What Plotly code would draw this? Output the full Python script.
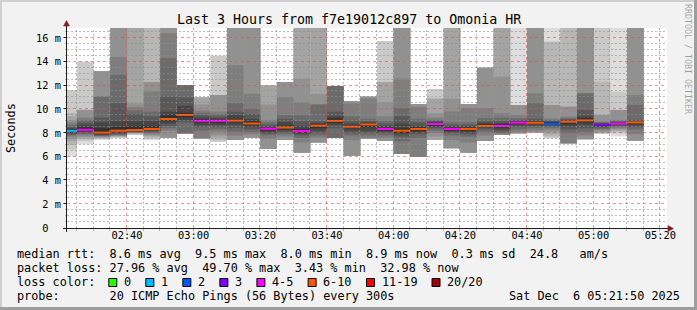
import pandas as pd
import plotly.graph_objects as go

DAY = "2025-12-06 "

# ---- data ----
end_times = ["02:25", "02:30", "02:35", "02:40", "02:45", "02:50", "02:55",
             "03:00", "03:05", "03:10", "03:15", "03:20", "03:25", "03:30", "03:35", "03:40", "03:45", "03:50", "03:55",
             "04:00", "04:05", "04:10", "04:15", "04:20", "04:25", "04:30", "04:35", "04:40", "04:45", "04:50", "04:55",
             "05:00", "05:05", "05:10", "05:15"]

# tops of smoke layers 1 (outer, light) .. 10 (inner, dark), ms ; 17.5 = beyond graph top
ping_hi = [
    [11.6, 11.6, 9.7, 9.4, 9.1, 8.9, 8.7, 8.5, 8.4, 8.3],
    [14.0, 14.0, 10.0, 9.95, 9.9, 9.3, 9.1, 8.9, 8.7, 8.5],
    [13.2, 13.2, 13.2, 13.2, 13.2, 11.1, 11.05, 9.3, 8.9, 8.4],
    [17.5, 17.5, 17.5, 17.5, 17.5, 14.4, 12.9, 10.5, 9.0, 8.5],
    [17.5, 17.5, 17.5, 17.5, 10.5, 10.2, 9.9, 9.6, 9.0, 8.6],
    [17.5, 17.5, 17.5, 12.3, 12.3, 11.5, 9.8, 9.4, 9.0, 8.6],
    [17.5, 17.5, 17.5, 17.5, 17.5, 16.4, 14.3, 11.06, 9.8, 9.5],
    [12.04, 12.04, 12.04, 12.04, 12.04, 12.04, 12.04, 11.0, 10.3, 9.7],
    [11.0, 11.0, 11.0, 11.0, 10.4, 9.9, 9.7, 9.5, 9.3, 9.15],
    [14.5, 14.5, 11.2, 11.2, 11.2, 9.8, 9.6, 9.4, 9.25, 9.1],
    [17.5, 17.5, 17.5, 17.5, 17.5, 13.7, 10.5, 9.8, 9.5, 9.2],
    [17.5, 17.5, 17.5, 17.5, 17.5, 11.3, 10.0, 9.6, 9.2, 9.0],
    [12.0, 12.0, 12.0, 12.0, 10.4, 9.1, 8.9, 8.7, 8.55, 8.45],
    [12.3, 12.3, 12.3, 12.3, 12.3, 11.0, 9.5, 9.2, 8.9, 8.6],
    [17.5, 17.5, 17.5, 17.5, 12.6, 10.6, 9.5, 9.0, 8.6, 8.35],
    [17.5, 17.5, 17.5, 17.5, 11.3, 10.4, 10.4, 9.0, 8.85, 8.75],
    [11.96, 11.96, 11.96, 11.96, 11.96, 11.96, 11.96, 9.8, 9.4, 9.25],
    [10.7, 10.7, 10.7, 10.7, 10.7, 10.5, 9.4, 9.0, 8.8, 8.65],
    [11.06, 11.06, 11.06, 11.06, 11.06, 10.9, 9.2, 9.0, 8.9, 8.8],
    [15.75, 15.75, 12.3, 12.3, 10.6, 9.4, 9.0, 8.8, 8.6, 8.45],
    [17.5, 17.5, 17.5, 17.5, 17.5, 12.6, 10.1, 9.4, 8.8, 8.4],
    [10.44, 10.44, 10.44, 10.44, 10.44, 10.2, 9.2, 8.9, 8.6, 8.5],
    [11.7, 11.7, 10.9, 10.9, 9.66, 9.3, 9.1, 9.0, 8.95, 8.85],
    [17.5, 17.5, 17.5, 17.5, 10.9, 9.8, 8.9, 8.7, 8.55, 8.45],
    [10.44, 10.44, 10.44, 10.44, 10.44, 10.1, 8.9, 8.7, 8.55, 8.45],
    [13.5, 13.5, 13.5, 13.5, 13.5, 10.1, 9.25, 9.0, 8.85, 8.75],
    [17.5, 17.5, 17.5, 17.5, 12.75, 9.66, 9.3, 9.0, 8.85, 8.75],
    [17.5, 10.36, 10.36, 10.36, 10.36, 9.5, 9.24, 9.1, 9.0, 8.95],
    [17.5, 17.5, 17.5, 17.5, 17.5, 11.34, 10.5, 9.2, 9.0, 8.95],
    [17.5, 15.69, 15.69, 10.36, 10.36, 9.24, 9.1, 9.0, 8.95, 8.9],
    [17.5, 17.5, 17.5, 10.22, 10.22, 9.38, 9.25, 9.15, 9.1, 9.05],
    [17.5, 17.5, 17.5, 17.5, 17.5, 11.34, 11.34, 9.94, 9.4, 9.25],
    [17.5, 17.5, 12.32, 9.52, 9.52, 8.96, 8.9, 8.85, 8.8, 8.75],
    [17.5, 11.48, 9.94, 9.94, 9.94, 9.1, 9.0, 8.95, 8.9, 8.85],
    [17.5, 17.5, 17.5, 17.5, 17.5, 11.2, 10.36, 9.1, 9.0, 8.95],
]

# bottoms of smoke layers 1 .. 10, ms
ping_lo = [
    [6.0, 6.6, 7.0, 7.3, 7.5, 7.7, 7.8, 7.9, 8.0, 8.1],
    [7.05, 7.3, 7.45, 7.55, 7.65, 7.8, 7.9, 8.0, 8.1, 8.2],
    [7.4, 7.5, 7.55, 7.6, 7.65, 7.7, 7.75, 7.8, 7.85, 7.95],
    [7.55, 7.6, 7.65, 7.7, 7.75, 7.8, 7.85, 7.9, 8.0, 8.1],
    [7.83, 7.86, 7.9, 7.95, 8.0, 8.03, 8.06, 8.1, 8.15, 8.2],
    [7.4, 7.5, 7.6, 7.7, 7.8, 7.9, 8.0, 8.1, 8.2, 8.25],
    [7.6, 7.6, 7.6, 7.6, 7.6, 8.2, 8.4, 8.6, 8.8, 9.0],
    [7.97, 7.97, 7.97, 7.97, 7.97, 7.97, 7.97, 8.9, 9.1, 9.3],
    [7.55, 7.55, 7.55, 7.55, 7.55, 7.55, 8.2, 8.5, 8.7, 8.9],
    [7.27, 7.27, 7.4, 7.6, 7.8, 8.1, 8.3, 8.5, 8.7, 8.85],
    [7.41, 7.41, 7.41, 7.41, 7.41, 7.8, 8.1, 8.4, 8.7, 8.9],
    [7.6, 7.6, 7.6, 7.6, 7.6, 7.9, 8.1, 8.3, 8.5, 8.65],
    [6.65, 6.65, 6.65, 6.65, 6.65, 7.5, 7.8, 7.95, 8.05, 8.2],
    [7.41, 7.41, 7.41, 7.41, 7.41, 7.7, 7.9, 8.05, 8.2, 8.3],
    [6.34, 6.34, 6.34, 6.34, 6.34, 7.2, 7.6, 7.8, 7.95, 8.05],
    [7.19, 7.19, 7.19, 7.19, 7.19, 7.6, 7.8, 8.0, 8.2, 8.4],
    [7.6, 7.6, 7.6, 7.6, 7.6, 7.6, 7.6, 8.4, 8.7, 8.85],
    [6.09, 6.09, 6.09, 6.09, 6.09, 7.4, 7.8, 8.0, 8.2, 8.4],
    [7.5, 7.5, 7.5, 7.5, 7.5, 7.6, 7.8, 8.0, 8.2, 8.5],
    [7.33, 7.33, 7.33, 7.33, 7.33, 7.6, 7.8, 8.0, 8.1, 8.2],
    [6.23, 6.23, 6.23, 6.23, 6.23, 6.23, 7.3, 7.7, 7.9, 8.0],
    [6.0, 6.0, 6.0, 6.0, 6.0, 6.0, 7.6, 7.9, 8.05, 8.15],
    [7.41, 7.41, 7.41, 7.41, 7.7, 8.0, 8.2, 8.4, 8.5, 8.6],
    [6.71, 6.71, 6.71, 6.71, 6.71, 7.4, 7.8, 8.0, 8.1, 8.2],
    [6.34, 6.34, 6.34, 6.34, 6.34, 7.2, 7.7, 7.9, 8.05, 8.2],
    [7.33, 7.33, 7.33, 7.33, 7.33, 7.8, 8.1, 8.3, 8.45, 8.5],
    [7.83, 7.83, 7.83, 7.83, 7.83, 7.9, 8.0, 8.15, 8.3, 8.45],
    [7.97, 7.97, 7.97, 7.97, 7.97, 8.1, 8.3, 8.5, 8.65, 8.75],
    [8.05, 8.05, 8.05, 8.05, 8.05, 8.2, 8.4, 8.55, 8.65, 8.75],
    [7.55, 7.55, 7.7, 7.9, 8.1, 8.3, 8.45, 8.55, 8.65, 8.7],
    [7.13, 7.13, 7.13, 7.13, 7.13, 7.13, 8.0, 8.3, 8.55, 8.75],
    [7.47, 7.47, 7.47, 7.47, 7.47, 7.8, 8.1, 8.4, 8.7, 8.9],
    [7.97, 7.97, 7.97, 7.97, 8.1, 8.25, 8.35, 8.45, 8.52, 8.58],
    [7.7, 7.95, 8.1, 8.2, 8.3, 8.4, 8.5, 8.6, 8.65, 8.7],
    [7.35, 7.35, 7.35, 7.35, 7.35, 7.9, 8.3, 8.5, 8.65, 8.75],
]

median_ms = [8.18, 8.27, 8.03, 8.19, 8.25, 8.34, 9.18, 9.52, 9.02, 9.02, 9.04, 8.8, 8.36, 8.46, 8.17, 8.62,
             9.02, 8.53, 8.72, 8.34, 8.19, 8.34, 8.76, 8.34, 8.34, 8.6, 8.6, 8.87, 8.86, 8.77, 8.95, 9.06,
             8.69, 8.79, 8.89]

loss_pings = [1, 5, 7, 7, 6, 6, 8, 9, 5, 4, 7, 6, 5, 6, 5, 7, 8, 6, 6, 4, 7, 6, 5, 4, 6, 7, 4, 5, 6, 2,
              6, 7, 3, 5, 7]

loss_labels = ["0", "1", "2", "3", "4-5", "6-10", "11-19", "20/20"]
loss_lower = [0, 1, 2, 3, 4, 6, 11, 20]
loss_colors = ["#26ff00", "#00b8ff", "#0059ff", "#7e00ff", "#ff00ff", "#ff5500", "#ff0000", "#a10000"]

y_ticks = [0, 2, 4, 6, 8, 10, 12, 14, 16]
y_ticktext = ["0\u00a0\u00a0", "2 m", "4 m", "6 m", "8 m", "10 m", "12 m", "14 m", "16 m"]

title_text = "Last 3 Hours from f7e19012c897 to Omonia HR"
legend_lines = [
    "median rtt:  8.6 ms avg  9.5 ms max  8.0 ms min  8.9 ms now  0.3 ms sd  24.8   am/s",
    "packet loss: 27.96 % avg  49.70 % max  3.43 % min  32.98 % now",
    "loss color:",
    "probe:       20 ICMP Echo Pings (56 Bytes) every 300s",
]
stamp = "Sat Dec  6 05:21:50 2025"

# ---- geometry helpers (pixels -> paper) ----
L, T, W, H = 67, 28, 600, 200
FW, FH = 697, 310
X0 = pd.Timestamp(DAY + "02:22:00")
X1 = pd.Timestamp(DAY + "05:22:00")
YMAX = 200 / 11.875


def px(x):
    return (x - L) / W


def py(y):
    return (T + H - y) / H


def tpx(t):
    return L + (t - X0).total_seconds() / (X1 - X0).total_seconds() * W


def vpy(v):
    return T + H - v / YMAX * H


ends = pd.to_datetime([DAY + t for t in end_times])
step = pd.Timedelta(seconds=300)
centers = ends - step / 2

fig = go.Figure()

# smoke layers
for i in range(10):
    g = int(190 / 10 * (10 - (i + 1))) + 50
    col = "rgb(%d,%d,%d)" % (g, g, g)
    base = [lo[i] for lo in ping_lo]
    top = [hi[i] for hi in ping_hi]
    fig.add_trace(go.Bar(x=centers, y=[a - b for a, b in zip(top, base)], base=base,
                         width=300000, marker=dict(color=col, line=dict(width=0)),
                         showlegend=False, hoverinfo="skip"))


def loss_idx(n):
    k = 0
    for j, lo in enumerate(loss_lower):
        if n >= lo:
            k = j
    return k


# median line coloured by loss
for k, colr in enumerate(loss_colors):
    xs, ys = [], []
    for e, m, n in zip(ends, median_ms, loss_pings):
        if loss_idx(n) == k:
            xs += [e - step, e, None]
            ys += [m, m, None]
    if xs:
        fig.add_trace(go.Scatter(x=xs, y=ys, mode="lines", line=dict(color=colr, width=2),
                                 showlegend=False, hoverinfo="skip"))

MGRID = "rgba(222,79,79,0.6)"
GRID = "rgba(143,143,143,0.6)"
FONT = "DejaVu Sans Mono"
AX = "#1f1f1f"
ARROW = "#801f1f"

fig.update_layout(
    width=FW, height=FH, margin=dict(l=L, r=FW - L - W, t=T, b=FH - T - H, pad=0),
    paper_bgcolor="#f2f2f2", plot_bgcolor="#ffffff", barmode="overlay", showlegend=False,
    font=dict(family=FONT, size=10.35, color="#000000"),
    xaxis=dict(type="date", range=[X0, X1], tickformat="%H:%M", dtick=1200000, tick0=DAY + "02:40",
               showgrid=False, zeroline=False, showline=False, ticks="", ticklabelstandoff=0),
    yaxis=dict(range=[0, YMAX], tickvals=y_ticks, ticktext=y_ticktext, showgrid=False, zeroline=False,
               showline=False, ticks="", ticklabelstandoff=5),
)

shapes = []


def seg(x0, y0, x1, y1, color, dash="solid", width=1):
    shapes.append(dict(type="line", xref="paper", yref="paper", x0=px(x0), x1=px(x1), y0=py(y0), y1=py(y1),
                       line=dict(color=color, width=width, dash=dash), layer="above"))


# grid drawn above the smoke (RRDtool style)
grid_times = list(pd.date_range(DAY + "02:25", DAY + "05:20", freq="5min"))
vmaj = [round(tpx(g)) - 0.5 for g in grid_times if g.minute % 20 == 0]
vmin = [round(tpx(g)) - 0.5 for g in grid_times if g.minute % 20 != 0]
grid_vals = [k * 0.5 for k in range(1, 34)]
hmaj = [round(vpy(g)) - 0.5 for g in grid_vals if g % 2 == 0]
hmin = [round(vpy(g)) - 0.5 for g in grid_vals if g % 2 != 0]

for xc in vmin:
    seg(xc, T + H, xc, T, GRID, dash="2px,2px")
    seg(xc, T + H + 0.5, xc, T + H + 3, GRID)
for yc in hmin:
    seg(L, yc, L + W, yc, GRID, dash="2px,2px")
    seg(L - 2, yc, L - 0.5, yc, GRID)
for xc in vmaj:
    seg(xc, T + H, xc, T, MGRID, dash="dot")
    seg(xc, T + H + 0.5, xc, T + H + 3.5, MGRID)
for yc in hmaj:
    seg(L, yc, L + W, yc, MGRID, dash="dot")
    seg(L - 3.5, yc, L - 0.5, yc, AX)

# frame
for (x0, x1, y0, y1, c) in [(0, FW, 0, 2, "#cfcfcf"), (0, 2, 0, FH, "#cfcfcf"),
                            (0, FW, FH - 3, FH, "#9e9e9e"), (FW - 3, FW, 0, FH, "#9e9e9e")]:
    shapes.append(dict(type="rect", xref="paper", yref="paper", x0=px(x0), x1=px(x1), y0=py(y0), y1=py(y1),
                       fillcolor=c, line=dict(width=0), layer="above"))
# axes with arrows
seg(66.5, 232, 66.5, 24, AX)
seg(63, 228.5, 670, 228.5, AX)
shapes.append(dict(type="path", xref="paper", yref="paper",
                   path="M %f,%f L %f,%f L %f,%f Z" % (px(63.5), py(26), px(69.5), py(26), px(66.5), py(20.5)),
                   fillcolor=ARROW, line=dict(color=ARROW, width=0.5), layer="above"))
shapes.append(dict(type="path", xref="paper", yref="paper",
                   path="M %f,%f L %f,%f L %f,%f Z" % (px(668), py(225.5), px(668), py(231.5), px(673.5), py(228.5)),
                   fillcolor=ARROW, line=dict(color=ARROW, width=0.5), layer="above"))

annotations = []
annotations.append(dict(text=title_text.replace(" ", "\u00a0"), xref="paper", yref="paper",
                        x=px(348.5), y=py(19), xanchor="center", yanchor="middle", showarrow=False,
                        font=dict(family=FONT, size=13.31, color="#000")))
annotations.append(dict(text="Seconds", xref="paper", yref="paper", x=px(11), y=py(128), textangle=-90,
                        xanchor="center", yanchor="middle", showarrow=False,
                        font=dict(family=FONT, size=11.83, color="#000")))
annotations.append(dict(text="RRDTOOL / TOBI OETIKER".replace(" ", "\u00a0"), xref="paper", yref="paper",
                        x=px(688), y=py(59), textangle=90, xanchor="center", yanchor="middle",
                        showarrow=False, font=dict(family=FONT, size=8.3, color="rgba(0,0,0,0.35)")))

line_y = [254.3, 268.3, 282.2, 296.2]
for s, yy in zip(legend_lines, line_y):
    annotations.append(dict(text=s.replace(" ", "\u00a0"), xref="paper", yref="paper", x=px(15.5), y=py(yy),
                            xanchor="left", yanchor="middle", showarrow=False, borderpad=0,
                            font=dict(family=FONT, size=11.83, color="#000")))
annotations.append(dict(text=stamp.replace(" ", "\u00a0"), xref="paper", yref="paper", x=px(681), y=py(296.2),
                        xanchor="right", yanchor="middle", showarrow=False, borderpad=0,
                        font=dict(family=FONT, size=11.83, color="#000")))

bx = 108.3
for lab, colr in zip(loss_labels, loss_colors):
    shapes.append(dict(type="rect", xref="paper", yref="paper", x0=px(bx + 0.5), x1=px(bx + 8.5),
                       y0=py(278.5), y1=py(286.5), fillcolor=colr, line=dict(color="#000", width=1),
                       layer="above"))
    annotations.append(dict(text=lab, xref="paper", yref="paper", x=px(bx + 14.5), y=py(282.2),
                            xanchor="left", yanchor="middle", showarrow=False, borderpad=0,
                            font=dict(family=FONT, size=11.83, color="#000")))
    bx += 29.9 + 7.12 * len(lab)

fig.update_layout(shapes=shapes, annotations=annotations)
fig.write_html("out.html")
